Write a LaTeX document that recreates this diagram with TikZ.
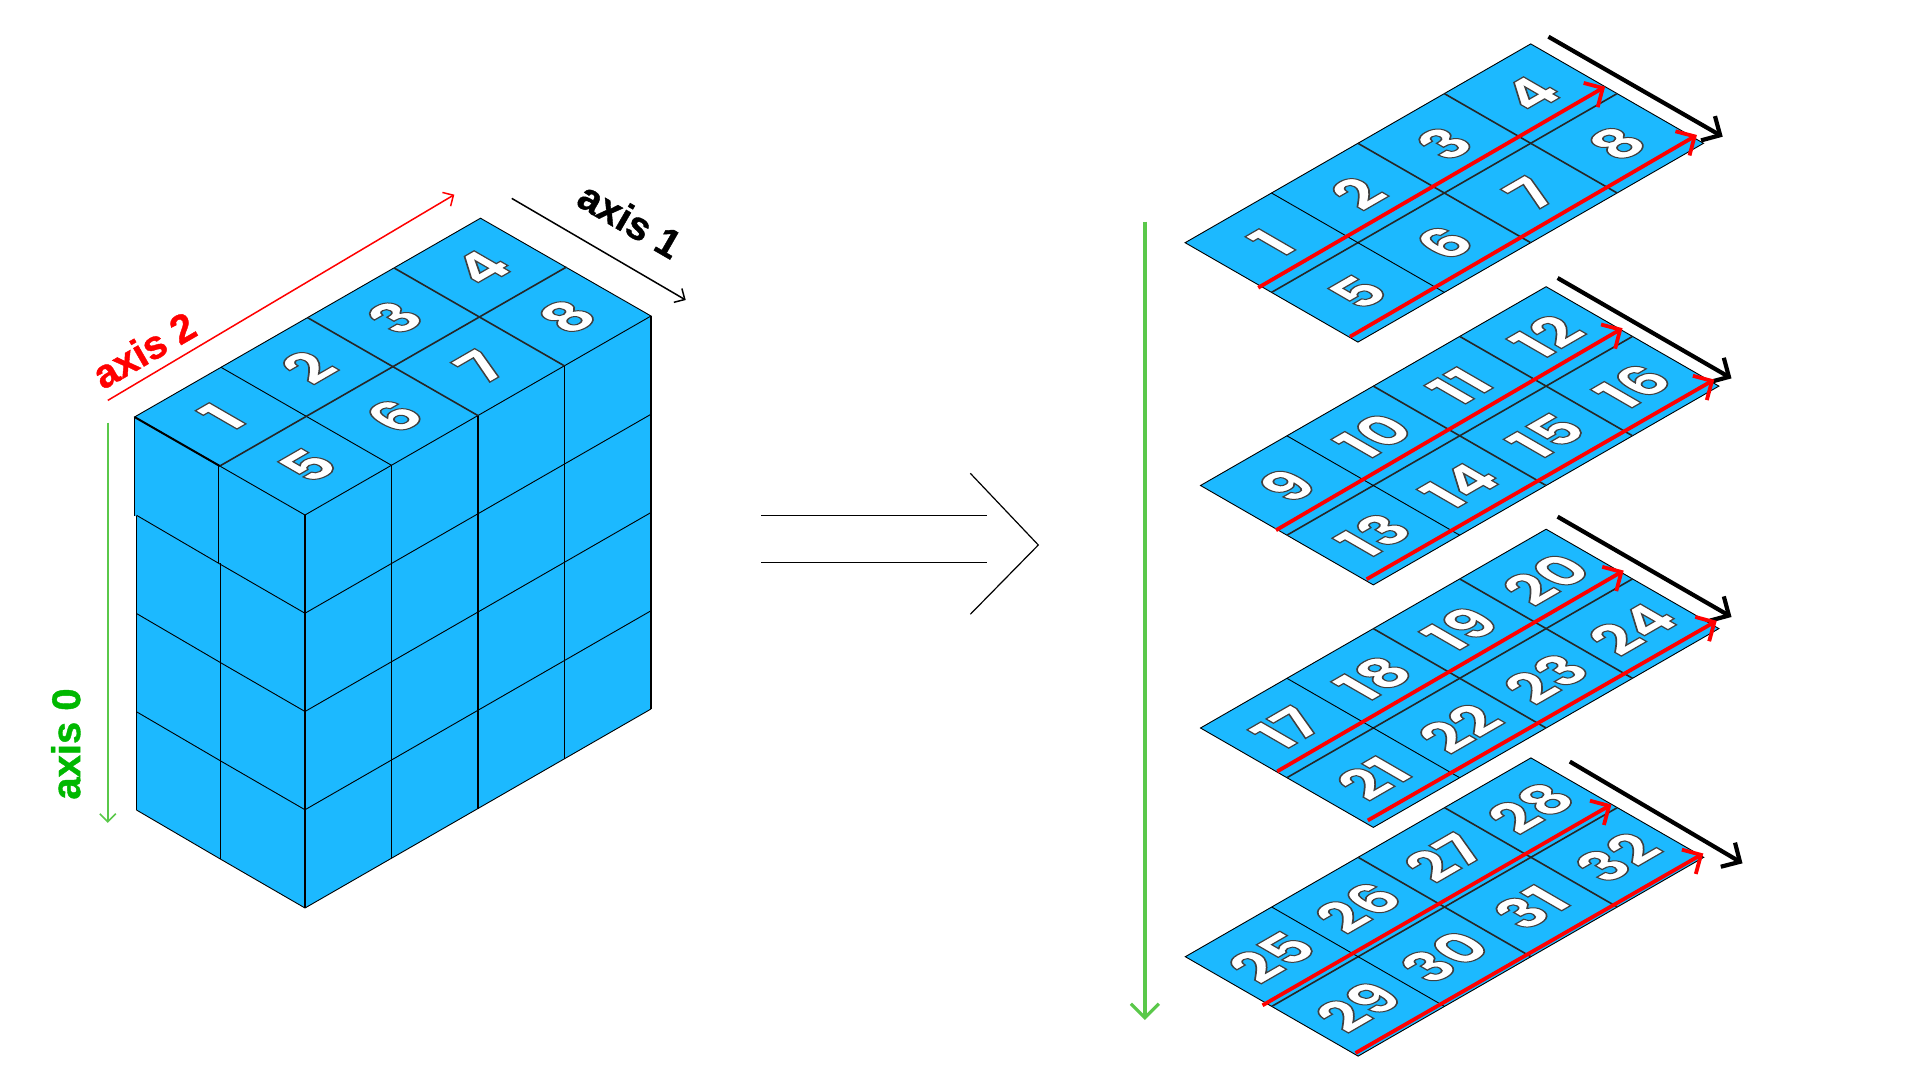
\documentclass[tikz,border=0pt]{standalone}
\usepackage{fontspec}
\usetikzlibrary{arrows.meta}

\setmainfont[BoldFeatures={FakeBold=1}]{Liberation Sans}
\newfontfamily\numfont{Poppins}

\definecolor{cubeblue}{HTML}{1CB9FF}
\definecolor{axisgreen}{HTML}{5AC84A}
\definecolor{labelgreen}{HTML}{00B800}

% white digit with a hairline edge
\newcommand{\edgednum}[1]{\numfont\bfseries\textcolor{white}{\special{pdf:code 2 Tr 0.7 w 0.25 G}#1\special{pdf:code 0 Tr}}}

\tikzset{
  gridthin/.style={black, line width=0.45pt},
  gridmid/.style={black!85, line width=0.8pt},
  cellnum/.style={cm={.866,.5,-.866,.5,(0,0)}, inner sep=0pt, font=\fontsize{29}{29}\selectfont},
  axislabel/.style={inner sep=0pt, font=\fontsize{20}{24}\selectfont\bfseries},
  thinaxis/.style={-{Straight Barb[length=4pt,width=8pt]}, line width=0.75pt},
  wideaxis/.style={-{Straight Barb[length=7pt,width=14pt]}, line width=1.6pt},
}

\begin{document}
\begin{tikzpicture}[x=0.5pt,y=-0.5pt]
\useasboundingbox (0,0) rectangle (1920,1080);

% Draw the block: one polygon for all faces
\fill[cubeblue] (134.5,417) -- (480.5,218.2) -- (651,316) -- (651,709) -- (305,908) -- (136.5,810) -- (136.5,516) -- (134.5,516) -- cycle;

% top face
\draw[gridthin] (134.5,417) -- (480.5,218.2) -- (651,316) -- (305,515) -- cycle;
\draw[gridthin] (134.5+86.5,417-49.7) -- (305+86.5,515-49.7);
\foreach \i in {2,3} {
  \draw[gridmid] (134.5+\i*86.5,417-\i*49.7) -- (305+\i*86.5,515-\i*49.7);
}
\draw[gridmid] (219.8,466) -- (566.5,267);
\draw[black, line width=1pt] (134.5,417) -- (219.8,466);

% front faces: verticals, then the layers
\foreach \i in {0,...,4} {
  \draw[gridthin, line width=0.6pt] (305+\i*86.5,515-\i*49.7) -- (305+\i*86.5,908-\i*49.7);
}
\foreach \j in {1,2,3,4} {
  \draw[gridthin] (305,515+\j*98.25) -- (651,316+\j*98.25);
  \draw[gridthin] (136.5,417+\j*98.25) -- (220.3,466+\j*98.25) -- (305,515+\j*98.25);
}
\draw[gridthin, line width=0.6pt] (134.5,417) -- (134.5,516);
\draw[gridthin, line width=0.6pt] (136.5,516) -- (136.5,810);
\draw[gridthin, line width=0.6pt] (218.7,466) -- (218.7,563);
\draw[gridthin, line width=0.6pt] (220.3,563) -- (220.3,859);

% numbers on the block
\foreach \n in {1,2,3,4} {
  \node[cellnum] (top\n) at ({134.5+(\n-.5)*86.5+44},{417-(\n-.5)*49.7+24.5}) {\edgednum{\n}};
}
\foreach \n in {5,6,7,8} {
  \node[cellnum] (top\n) at ({134.5+(\n-4.5)*86.5+130},{417-(\n-4.5)*49.7+73.5}) {\edgednum{\n}};
}

% Axes of the block
\coordinate (axisTwoA) at (107.8,400.4);
\coordinate (axisTwoB) at (454.3,194.7);
\coordinate (axisOneA) at (511.8,198.4);
\coordinate (axisOneB) at (685.7,300);
\coordinate (axisZeroA) at (107.8,422.5);
\coordinate (axisZeroB) at (107.8,822.8);
\draw[thinaxis, red] (axisTwoA) -- (axisTwoB);
\draw[thinaxis, black] (axisOneA) -- (axisOneB);
\draw[thinaxis, axisgreen] (axisZeroA) -- (axisZeroB);
\node[axislabel, red, rotate=30] (labelTwo) at (144,350) {axis 2};
\node[axislabel, black, rotate=-30] (labelOne) at (630,220) {axis 1};
\node[axislabel, labelgreen, rotate=90] (labelZero) at (65.8,744) {axis 0};

% The hollow arrow in the middle
\coordinate (barTopA) at (761,515.3);
\coordinate (barTopB) at (987,515.3);
\coordinate (barLowA) at (761,562.3);
\coordinate (barLowB) at (987,562.3);
\coordinate (headA) at (970.3,473.3);
\coordinate (headTip) at (1038.3,545);
\coordinate (headB) at (970.3,614.3);
\draw[line width=0.6pt] (barTopA) -- (barTopB);
\draw[line width=0.6pt] (barLowA) -- (barLowB);
\draw[line width=0.6pt] (headA) -- (headTip) -- (headB);

% The long arrow beside the slices
\coordinate (stackA) at (1144.9,221.6);
\coordinate (stackB) at (1144.9,1020);
\draw[wideaxis, axisgreen] (stackA) -- (stackB);

% Draw the four slices
\foreach \first/\px/\py in {1/1185.1/242.7, 9/1200.5/485.5, 17/1200.5/728, 25/1185.3/956.7} {
\begin{scope}[shift={(\px,\py)}]
  \filldraw[gridthin, fill=cubeblue] (0,0) -- (345.6,-198.8) -- (518.4,-99.4) -- (172.8,99.4) -- cycle;
  \draw[gridmid] (86.4,49.7) -- (432,-149.1);
  \draw[gridthin] (86.4,-49.7) -- (259.2,49.7);
  \draw[gridmid] (172.8,-99.4) -- (345.6,0);
  \draw[gridmid] (259.2,-149.1) -- (432,-49.7);
  \foreach \k in {0,1,2,3} {
    \pgfmathtruncatemacro{\upper}{\first+\k}
    \pgfmathtruncatemacro{\lower}{\first+\k+4}
    \node[cellnum] (num\upper) at ({86.4+\k*86.4},{-\k*49.7}) {\edgednum{\upper}};
    \node[cellnum] (num\lower) at ({172.8+\k*86.4},{49.7-\k*49.7}) {\edgednum{\lower}};
  }
\end{scope}
}

% Arrows over the slices
\foreach \name/\ax/\ay/\bx/\by in {
  sliceOne/1548.4/36.7/1722.7/136.7,
  sliceTwo/1557.6/278/1731.5/378.4,
  sliceThree/1557.6/516.7/1731.5/617,
  sliceFour/1569.8/761.6/1742.5/863.3} {
  \coordinate (\name A) at (\ax,\ay);
  \coordinate (\name B) at (\bx,\by);
  \draw[wideaxis, black, line width=2.1pt] (\name A) -- (\name B);
}
\foreach \name/\ax/\ay/\bx/\by in {
  rowOne/1258.2/287.7/1605.1/86.7,
  rowTwo/1350/336.7/1696.9/135,
  rowThree/1276/530.2/1622.5/328.2,
  rowFour/1366.6/579.2/1714.3/379.6,
  rowFive/1277.2/771.4/1623.7/570.6,
  rowSix/1367.8/820.4/1716.7/620.8,
  rowSeven/1262.5/1005.3/1611.4/804.5,
  rowEight/1355.5/1053/1703.3/853.5} {
  \coordinate (\name A) at (\ax,\ay);
  \coordinate (\name B) at (\bx,\by);
  \draw[wideaxis, red, line width=1.9pt] (\name A) -- (\name B);
}

\end{tikzpicture}
\end{document}
